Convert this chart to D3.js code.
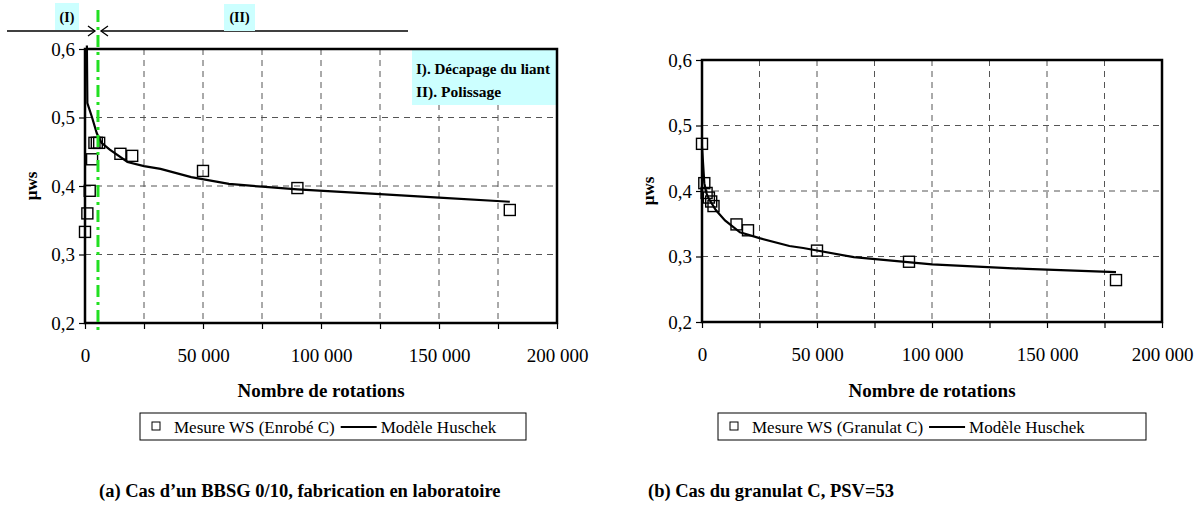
<!DOCTYPE html>
<html><head><meta charset="utf-8">
<script src="https://cdn.jsdelivr.net/npm/d3@7"></script>
<style>body{margin:0;background:#fff}svg{display:block}</style>
</head><body>
<svg id="c" width="1204" height="524"></svg>
<script>
// ---- data ----
const xTicks = [0, 50000, 100000, 150000, 200000];
const xMinorTicks = [25000, 75000, 125000, 175000];
const yTicks = [0.2, 0.3, 0.4, 0.5, 0.6];

const mesureA_N = [0, 1000, 2000, 3000, 4000, 5000, 6000, 15000, 20000, 50000, 90000, 180000];
const mesureA_mu = [0.333, 0.360, 0.393, 0.439, 0.463, 0.463, 0.463, 0.447, 0.444, 0.422, 0.397, 0.365];
const modelA_N = [800, 1000, 3000, 5000, 7000, 10500, 18000, 25000, 32000, 45000, 61000, 75000, 90000, 125000, 150000, 180000];
const modelA_mu = [0.605, 0.521, 0.500, 0.477, 0.463, 0.453, 0.435, 0.429, 0.425, 0.413, 0.403, 0.399, 0.395, 0.388, 0.383, 0.377];

const mesureB_N = [0, 1000, 2000, 3000, 4000, 5000, 15000, 20000, 50000, 90000, 180000];
const mesureB_mu = [0.472, 0.412, 0.397, 0.390, 0.384, 0.377, 0.349, 0.340, 0.309, 0.292, 0.264];
const modelB_N = [0, 1000, 2000, 3000, 6000, 10000, 16500, 25000, 38000, 44000, 66000, 100000, 141000, 180000];
const modelB_mu = [0.468, 0.412, 0.396, 0.388, 0.371, 0.355, 0.337, 0.328, 0.316, 0.313, 0.299, 0.288, 0.281, 0.276];

const phaseBoundaryN = 5500;
const legendA = ["Mesure WS (Enrobé C)", "Modèle Huschek"];
const legendB = ["Mesure WS (Granulat C)", "Modèle Huschek"];
const captionA = "(a) Cas d’un BBSG 0/10, fabrication en laboratoire";
const captionB = "(b) Cas du granulat C, PSV=53";
const annotation = ["I). Décapage du liant", "II). Polissage"];

const svg = d3.select("#c");
const FONT = "Liberation Serif";
const fmtX = d => d === 0 ? "0" : d3.format(",")(d).replace(/,/g, " ");
const fmtY = d => d3.format(".1f")(d).replace(".", ",");

function txt(sel, x, y, size, bold) {
  return sel.append("text").attr("x", x).attr("y", y).attr("font-family", FONT)
    .attr("font-size", size).attr("font-weight", bold ? "bold" : "normal").attr("fill", "#000");
}

function chart(o) {
  const x = d3.scaleLinear().domain([0, 200000]).range([o.x0, o.x1]);
  const y = d3.scaleLinear().domain([0.2, 0.6]).range([o.y1, o.y0]);
  const g = svg.append("g");
  // grid
  g.selectAll(".vg").data(xTicks.concat(xMinorTicks).filter(d => d > 0 && d < 200000)).join("line")
    .attr("x1", d => x(d)).attr("x2", d => x(d)).attr("y1", o.y0).attr("y2", o.y1)
    .attr("stroke", "#555").attr("stroke-width", 1).attr("stroke-dasharray", "6,5");
  g.selectAll(".hg").data(yTicks.filter(d => d > 0.2 && d < 0.6)).join("line")
    .attr("x1", o.x0).attr("x2", o.x1).attr("y1", d => y(d)).attr("y2", d => y(d))
    .attr("stroke", "#555").attr("stroke-width", 1).attr("stroke-dasharray", "6,5");
  if (o.extra) o.extra(g, x, y);
  // frame
  g.append("rect").attr("x", o.x0).attr("y", o.y0).attr("width", o.x1 - o.x0).attr("height", o.y1 - o.y0)
    .attr("fill", "none").attr("stroke", "#000").attr("stroke-width", 2.5);
  // axes
  const ax = g.append("g").attr("transform", `translate(0,${o.y1})`)
    .call(d3.axisBottom(x).tickValues(xTicks.concat(xMinorTicks).sort((a, b) => a - b)).tickSize(6)
      .tickFormat(d => xTicks.includes(d) ? fmtX(d) : ""));
  ax.attr("font-family", FONT).attr("font-size", 19);
  ax.select(".domain").remove();
  ax.selectAll("line").attr("stroke", "#000").attr("stroke-width", 1.2);
  ax.selectAll("text").attr("fill", "#000").attr("y", 39).attr("dy", 0);
  const ay = g.append("g").attr("transform", `translate(${o.x0},0)`)
    .call(d3.axisLeft(y).tickValues(yTicks).tickSize(6).tickFormat(fmtY));
  ay.attr("font-family", FONT).attr("font-size", 19);
  ay.select(".domain").remove();
  ay.selectAll("line").attr("stroke", "#000").attr("stroke-width", 1.2);
  ay.selectAll("text").attr("fill", "#000").attr("x", -10);
  // model line
  const line = d3.line().x(d => x(d[0])).y(d => y(d[1]));
  g.append("path").datum(d3.zip(o.modelN, o.modelMu)).attr("d", line)
    .attr("fill", "none").attr("stroke", "#000").attr("stroke-width", 2.2);
  // markers
  const s = 11;
  g.selectAll(".m").data(d3.zip(o.mesN, o.mesMu)).join("rect")
    .attr("x", d => x(d[0]) - s / 2).attr("y", d => y(d[1]) - s / 2).attr("width", s).attr("height", s)
    .attr("fill", "none").attr("stroke", "#000").attr("stroke-width", 1.4);
  // titles
  txt(g, (o.x0 + o.x1) / 2, 397, 19, true).attr("text-anchor", "middle").text("Nombre de rotations");
  g.append("text").attr("transform", `translate(${o.x0 - 48},${(o.y0 + o.y1) / 2}) rotate(-90)`)
    .attr("text-anchor", "middle").attr("font-family", FONT).attr("font-weight", "bold").attr("font-size", 17).text("µws");
  // legend
  const L = o.legend;
  g.append("rect").attr("x", L.x).attr("y", 413).attr("width", L.w).attr("height", 27)
    .attr("fill", "#fff").attr("stroke", "#000").attr("stroke-width", 1);
  g.append("rect").attr("x", L.x + 12).attr("y", 422).attr("width", 8).attr("height", 8)
    .attr("fill", "none").attr("stroke", "#000").attr("stroke-width", 1);
  const t1 = txt(g, L.x + 34, 433, 17, false).text(L.labels[0]);
  const w1 = t1.node().getComputedTextLength();
  const lx = L.x + 34 + w1 + 6;
  g.append("line").attr("x1", lx).attr("x2", lx + 36).attr("y1", 427).attr("y2", 427).attr("stroke", "#000").attr("stroke-width", 2.2);
  txt(g, lx + 40, 433, 17, false).text(L.labels[1]);
  // caption
  txt(g, o.capX, 497, 18.5, true).text(o.caption);
  return {x, y};
}

chart({
  x0: 85, x1: 557, y0: 49, y1: 323,
  modelN: modelA_N, modelMu: modelA_mu, mesN: mesureA_N, mesMu: mesureA_mu,
  legend: {x: 140, w: 386, labels: legendA}, caption: captionA, capX: 99,
  extra: (g, x, y) => {
    g.append("rect").attr("x", 412).attr("y", 49).attr("width", 557 - 412).attr("height", 56).attr("fill", "#ccffff");
    annotation.forEach((a, i) => {
      const t = txt(g, 416, 74 + i * 23, 15.5, true).text(a);
      if (i === 0 && t.node().getComputedTextLength() > 134) t.attr("textLength", 134).attr("lengthAdjust", "spacingAndGlyphs");
    });
  }
});

chart({
  x0: 702, x1: 1162, y0: 60, y1: 322,
  modelN: modelB_N, modelMu: modelB_mu, mesN: mesureB_N, mesMu: mesureB_mu,
  legend: {x: 718, w: 428, labels: legendB}, caption: captionB, capX: 648
});

// phase header (left chart)
const xa = d3.scaleLinear().domain([0, 200000]).range([85, 557]);
const bx = xa(phaseBoundaryN);
const hdr = svg.append("g");
hdr.append("line").attr("x1", 7).attr("x2", bx - 3).attr("y1", 31).attr("y2", 31).attr("stroke", "#000").attr("stroke-width", 1.3);
hdr.append("line").attr("x1", bx + 3).attr("x2", 408).attr("y1", 31).attr("y2", 31).attr("stroke", "#000").attr("stroke-width", 1.3);
hdr.append("path").attr("d", `M${bx - 10},26 L${bx - 3},31 L${bx - 10},36`).attr("fill", "none").attr("stroke", "#000").attr("stroke-width", 1.3);
hdr.append("path").attr("d", `M${bx + 10},26 L${bx + 3},31 L${bx + 10},36`).attr("fill", "none").attr("stroke", "#000").attr("stroke-width", 1.3);
hdr.append("rect").attr("x", 55).attr("y", 3).attr("width", 24).attr("height", 27).attr("fill", "#ccffff");
hdr.append("rect").attr("x", 224).attr("y", 4).attr("width", 31).attr("height", 27).attr("fill", "#ccffff");
txt(hdr, 67, 22, 14, true).attr("text-anchor", "middle").text("(I)");
txt(hdr, 239.5, 22, 14, true).attr("text-anchor", "middle").text("(II)");
hdr.append("line").attr("x1", bx).attr("x2", bx).attr("y1", 10).attr("y2", 332)
  .attr("stroke", "#22e022").attr("stroke-width", 3).attr("stroke-dasharray", "12,5,3,5");
</script>
</body></html>
